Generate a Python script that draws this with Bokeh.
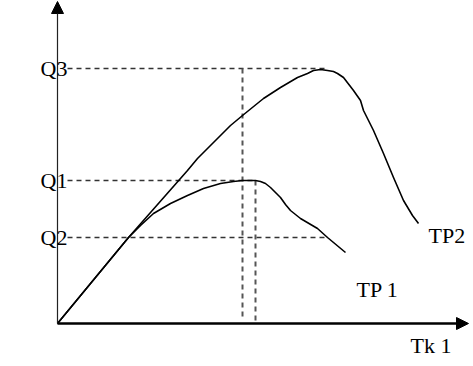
from bokeh.plotting import figure
from bokeh.models import Range1d, Arrow, NormalHead, Label
from bokeh.embed import file_html
from bokeh.resources import INLINE

# Data (chart units: x = labour input, y = output)
tp1_x = [0, 71, 77, 83, 96, 113, 130, 146, 163, 176, 185, 198, 203, 208, 213, 218, 223, 228, 233, 243, 260, 270, 288]
tp1_y = [0, 86, 92, 98, 110, 120, 128, 135, 140, 142, 143, 143, 142, 140, 136, 131, 126, 119, 113, 105, 95, 86, 71]

tp2_x = [0, 71, 130, 140, 156, 173, 185, 206, 223, 240, 250, 256, 263, 270, 276, 280, 286, 296, 303, 306, 316, 326, 336, 346, 355, 361]
tp2_y = [0, 86, 153, 165, 181, 198, 208, 225, 236, 246, 250, 253, 254, 253, 252, 250, 246, 233, 223, 213, 193, 170, 146, 123, 108, 100]

q_labels = ["Q3", "Q1", "Q2"]
q_values = [255, 143, 86]
q_ends = [271, 198, 268]
v_x = [185, 198]
v_top = [255, 143]

curve_labels = ["TP2", "TP 1"]
curve_label_x = [371, 299]
curve_label_y = [88, 34]
x_title = "Tk 1"

FONT = "Liberation Serif"

p = figure(width=473, height=366, output_backend="svg", toolbar_location=None,
           x_range=Range1d(-57, 416), y_range=Range1d(-43, 323),
           x_axis_type=None, y_axis_type=None, min_border=0)
p.grid.visible = False
p.outline_line_color = None
p.background_fill_color = "white"

# dashed guides
for q, e in zip(q_values, q_ends):
    p.line([10, e], [q, q], line_color="#333333", line_width=1.4, line_dash="5 4")
for vx, vt in zip(v_x, v_top):
    p.line([vx, vx], [vt, 3], line_color="#555555", line_width=2, line_dash="5 4")

# curves
p.line(tp1_x, tp1_y, line_color="black", line_width=1.6, line_join="round")
p.line(tp2_x, tp2_y, line_color="black", line_width=1.6, line_join="round")

# axes with arrows
p.add_layout(Arrow(end=NormalHead(size=12, fill_color="black", line_color="black"),
                   x_start=0, y_start=0, x_end=0, y_end=322,
                   line_color="#222222", line_width=1.2))
p.add_layout(Arrow(end=NormalHead(size=12, fill_color="black", line_color="black"),
                   x_start=0, y_start=0, x_end=411, y_end=0,
                   line_color="black", line_width=2.5))

# labels
for lab, q in zip(q_labels, q_values):
    p.add_layout(Label(x=10, y=q, text=lab, text_align="right", text_baseline="middle",
                       text_font=FONT, text_font_size="22px", text_color="black"))
for lab, lx, ly in zip(curve_labels, curve_label_x, curve_label_y):
    p.add_layout(Label(x=lx, y=ly, text=lab, text_align="left", text_baseline="middle",
                       text_font=FONT, text_font_size="22px", text_color="black"))
p.add_layout(Label(x=353, y=-22, text=x_title, text_align="left", text_baseline="middle",
                   text_font=FONT, text_font_size="22px", text_color="black"))

open("out.html", "w").write(file_html(p, INLINE))
